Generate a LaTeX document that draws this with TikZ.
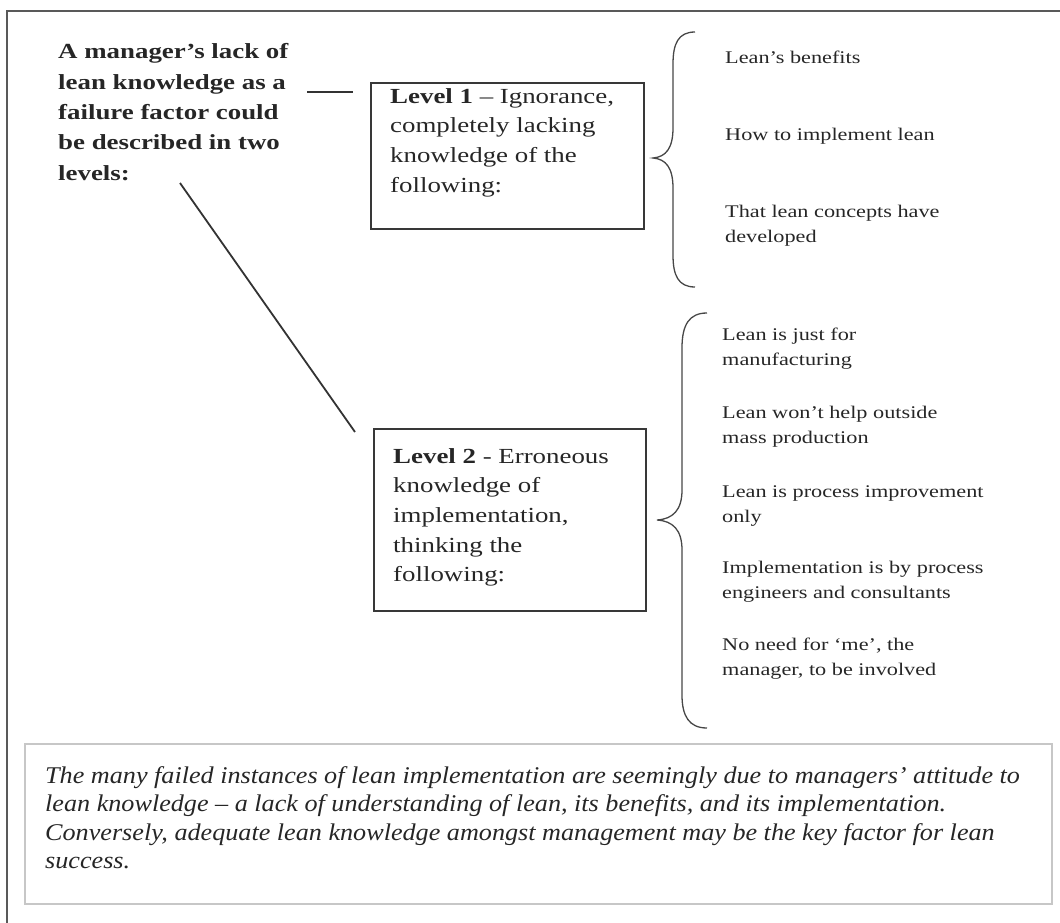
\documentclass[tikz,border=0pt]{standalone}
\usepackage{fontspec}
\usepackage{graphicx}
\setmainfont{Liberation Serif}
% lines of text set in a left-aligned block, widened horizontally
\newcommand\wlines[2][1.25]{\scalebox{#1}[1]{\begin{tabular}{@{}l@{}}#2\end{tabular}}}
\begin{document}
\begin{tikzpicture}[x=1pt,y=-1pt,
  txt/.style={inner sep=0pt, anchor=north west, text=black!85},
  headtxt/.style={txt, font=\fontsize{21.5}{30.3}\selectfont\bfseries},
  leveltxt/.style={txt, font=\fontsize{21.5}{29.6}\selectfont},
  itemtxt/.style={txt, font=\fontsize{17.8}{25}\selectfont},
  notetxt/.style={txt, font=\fontsize{24}{28.5}\selectfont\itshape},
  levelbox/.style={draw=black!78, line width=2.4pt, inner sep=0pt, anchor=north west},
  notebox/.style={draw=black!22, line width=1.6pt, inner sep=0pt, anchor=north west},
  link/.style={draw=black!80, line width=1.8pt},
  bracket/.style={draw=black!72, line width=1.3pt},
  frame/.style={draw=black!65, line width=2pt}
]
\useasboundingbox (0,0) rectangle (1060,923);

% outer frame (only top and left edges fall inside the page)
\draw[frame] (7,923) -- (7,11) -- (1060,11);

% heading
\node[headtxt] (head) at (58,37.5) {\wlines{A manager’s lack of\\lean knowledge as a\\failure factor could\\be described in two\\levels:}};

% level boxes
\node[levelbox, minimum width=273pt, minimum height=146pt] (lvl1) at (370,82) {};
\node[leveltxt] (lvl1t) at (390,82.3) {\wlines{\textbf{Level 1} – Ignorance,\\completely lacking\\knowledge of the\\following:}};

\node[levelbox, minimum width=272pt, minimum height=182pt] (lvl2) at (373,428) {};
\node[leveltxt] (lvl2t) at (393,442.3) {\wlines{\textbf{Level 2} - Erroneous\\knowledge of\\implementation,\\thinking the\\following:}};

% connectors from the heading to the levels
\coordinate (h1) at (307,92);
\coordinate (h1e) at (353,92);
\coordinate (h2) at (180,183);
\coordinate (h2e) at (355,432);
\draw[link] (h1) -- (h1e);
\draw[link] (h2) -- (h2e);

% brace for level 1
\draw[bracket] (695,32) .. controls (678,32) and (673,44) .. (673,64)
  -- (673,128) .. controls (673,148) and (666,157) .. (653,158)
  .. controls (666,159) and (673,168) .. (673,188)
  -- (673,255) .. controls (673,275) and (678,287) .. (695,287);

% brace for level 2
\draw[bracket] (707,313) .. controls (689,313) and (682,325) .. (682,348)
  -- (682,490) .. controls (682,510) and (673,519) .. (657,520)
  .. controls (673,521) and (682,530) .. (682,550)
  -- (682,695) .. controls (682,716) and (689,728) .. (707,728);

% level 1 items
\node[itemtxt] (a1) at (725,45.5) {\wlines{Lean’s benefits}};
\node[itemtxt] (a2) at (725,122.5) {\wlines{How to implement lean}};
\node[itemtxt] (a3) at (725,199.5) {\wlines{That lean concepts have\\developed}};

% level 2 items
\node[itemtxt] (b1) at (722,322.5) {\wlines{Lean is just for\\manufacturing}};
\node[itemtxt] (b2) at (722,400.5) {\wlines{Lean won’t help outside\\mass production}};
\node[itemtxt] (b3) at (722,479.5) {\wlines{Lean is process improvement\\only}};
\node[itemtxt] (b4) at (722,555.5) {\wlines{Implementation is by process\\engineers and consultants}};
\node[itemtxt] (b5) at (722,632.5) {\wlines{No need for ‘me’, the\\manager, to be involved}};

% closing note
\node[notebox, minimum width=1027pt, minimum height=160pt] (note) at (24,743) {};
\node[notetxt] (notet) at (45,763) {\wlines[1.09]{The many failed instances of lean implementation are seemingly due to managers’ attitude to\\lean knowledge – a lack of understanding of lean, its benefits, and its implementation.\\Conversely, adequate lean knowledge amongst management may be the key factor for lean\\success.}};
\end{tikzpicture}
\end{document}
